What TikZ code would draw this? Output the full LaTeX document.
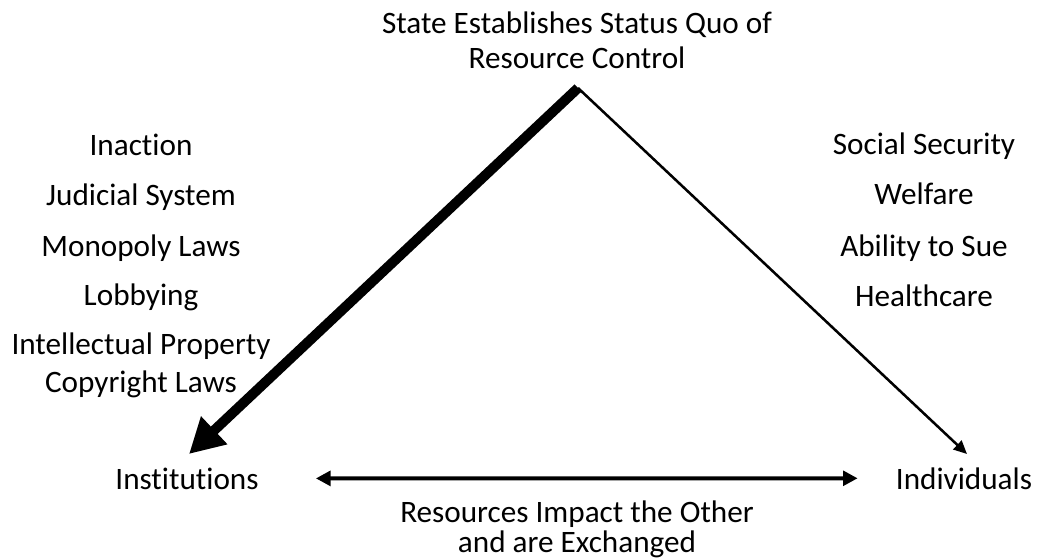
\documentclass[tikz,border=0pt]{standalone}
\usepackage{fontspec}
\setmainfont{Carlito}[Ligatures=NoCommon]
\usepackage{tikz}
\usetikzlibrary{arrows.meta}
\usetikzlibrary{calc}
\tikzset{label text/.style={font=\fontsize{23.4}{28}\selectfont, inner sep=0pt, anchor=base}}
\tikzset{heavy arrow/.style={line width=7.5pt, -{Triangle[length=26pt, width=27pt]}}}
\tikzset{light arrow/.style={line width=1.9pt, -{Triangle[length=10pt, width=9pt]}}}
\tikzset{swap arrow/.style={line width=3pt, {Triangle[length=11pt, width=11pt]}-{Triangle[length=11pt, width=11pt]}}}

\begin{document}
\begin{tikzpicture}[x=0.75pt,y=-0.75pt]
  \useasboundingbox (0,0) rectangle (1039,558);

  \node[label text] (state) at (577,33) {State Establishes Status Quo of};
  \node[label text] (stateb) at (577,68) {Resource Control};
  \node[label text] (inst) at (187,489) {Institutions};
  \node[label text] (ind) at (964,489) {Individuals};
  \node[label text] (exch) at (577,522) {Resources Impact the Other};
  \node[label text] (exchb) at (577,552) {and are Exchanged};

  \coordinate (apex) at (578,88);
  \coordinate (instTip) at (189,454);
  \coordinate (indTip) at (967,454);

  % measures that favour institutions
  \foreach \y/\lab/\name in {
    155/Inaction/inaction,
    205/Judicial System/judicial,
    256/Monopoly Laws/monopoly,
    305/Lobbying/lobbying,
    354/Intellectual Property/ip,
    392/Copyright Laws/copyright%
  } {
    \node[label text] (\name) at (141,\y) {\lab};
  }

  % measures that favour individuals
  \foreach \y/\lab/\name in {
    154/Social Security/social,
    204/Welfare/welfare,
    256/Ability to Sue/sue,
    306/Healthcare/health%
  } {
    \node[label text] (\name) at (924,\y) {\lab};
  }

  \draw[heavy arrow] (apex) -- (instTip);
  \draw[light arrow] (apex) -- (indTip);
  \draw[swap arrow] ($(inst.east)+(57,0)$) -- ($(ind.west)+(-38,0)$);

\end{tikzpicture}
\end{document}
